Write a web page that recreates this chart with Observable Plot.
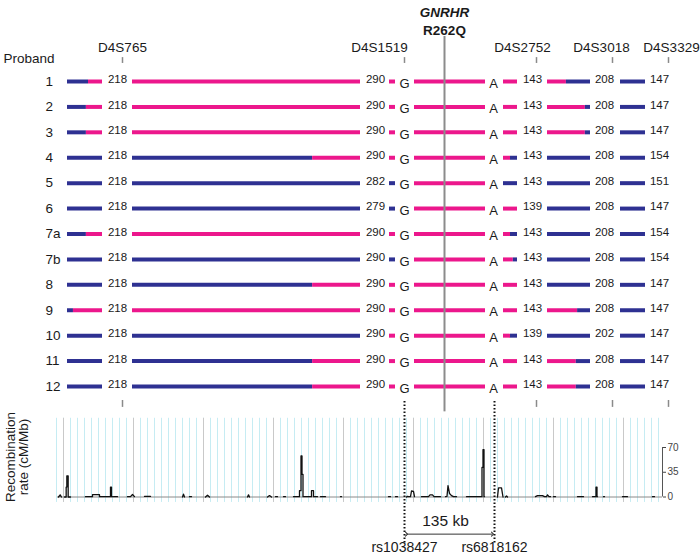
<!DOCTYPE html>
<html>
<head>
<meta charset="utf-8">
<script src="https://cdn.jsdelivr.net/npm/d3@7"></script>
<script src="https://cdn.jsdelivr.net/npm/@observablehq/plot@0.6"></script>
<style>
  body { margin: 0; background: #fff; }
  svg { display: block; }
</style>
</head>
<body>
<div id="chart"></div>
<script>
// ---------------- DATA ----------------
const probands = ["1","2","3","4","5","6","7a","7b","8","9","10","11","12"];

// markers (map position, kb)
const markerNames = ["D4S765","D4S1519","D4S2752","D4S3018","D4S3329"];
const markerKb = [88.5, 511.5, 709.5, 823.5, 907.5];
const snpNames = ["rs1038427","rs6818162"];
const snpKb = [511.5, 646.5];
const mutationName = "GNRHR";
const mutationLabel = "R262Q";
const mutationKb = 571.5;
const intervalLabel = "135 kb";

// alleles per proband
const alleleD4S765  = [218,218,218,218,218,218,218,218,218,218,218,218,218];
const alleleD4S1519 = [290,290,290,290,282,279,290,290,290,290,290,290,290];
const alleleRs1038427 = ["G","G","G","G","G","G","G","G","G","G","G","G","G"];
const alleleRs6818162 = ["A","A","A","A","A","A","A","A","A","A","A","A","A"];
const alleleD4S2752 = [143,143,143,143,143,139,143,143,143,143,139,143,143];
const alleleD4S3018 = [208,208,208,208,208,208,208,208,208,208,202,208,208];
const alleleD4S3329 = [147,147,147,154,151,147,154,154,147,147,147,147,147];

// haplotype per interval: s = shared (pink), n = not shared (blue);
// "n.60s" = not shared for first 60% of interval, then shared
const hapInt1 = ["n.60s","n.54s","n.54s","n","n","n","n.54s","n","n","n.17s","n","n","n"];
const hapInt2 = ["s","s","s","n.79s","n","n","s","n","n.79s","s","n","n.79s","n.79s"];
const hapInt3 = ["s","s","s","s","n","n","s","n","s","s","s","s","s"];
const hapInt4 = ["s","s","s","s","s","s","s","s","s","s","s","s","s"];
const hapInt5 = ["s","s","s","s.50n","n","s","s.50n","s.70n","s","s","s.50n","s","s"];
const hapInt6 = ["s.44n","s.88n","s.88n","n","n","n","n","n","n","s.70n","n","s.67n","s.67n"];
const hapInt7 = ["n","n","n","n","n","n","n","n","n","n","n","n","n"];

// recombination rate trace (kb, cM/Mb); null = gap
const recombKb = [
  -7.5,-5,-3,null,
  1.5,4,4,5,5,7,7,10.5,null,
  33,43.5,43.5,54,54,70.5,70.5,72,72,73.5,null,
  75,81,null,
  96,100.5,103.5,106.5,null,
  121.5,130.5,null,
  178.5,180,181.5,null,
  189,192,null,
  213,216,219,null,
  276,277.5,279,null,
  306,309,312,null,
  318,321,null,
  330,333,null,
  345,354,354,356.25,356.25,357.75,357.75,359.25,359.25,372,372,375,375,381,null,
  385.5,393,null,
  415.5,417,null,
  487.5,490.5,null,
  498,501,null,
  514.5,516,517.5,520.5,522,525,526.5,null,
  537,547.5,549.75,553.5,555.75,565.5,null,
  573,575.25,576.75,579,582,585,589.5,null,
  604.5,627.75,627.75,629.25,629.25,630.75,630.75,631.5,null,
  651,652.5,657,659.25,null,
  663,664.5,666,null,
  708,711,718.5,721.5,724.5,726,728.25,730.5,null,
  735,738,null,
  771,780,null,
  793.5,798.75,798.75,800.25,800.25,801,null,
  810,811.5,null,
  838.5,846,null,
  883.5,886.5
];
const recombRate = [
  0,3,0,null,
  0,0,14,14,30,30,0,0,null,
  0.5,0.5,3.3,3.3,0.5,0.5,14,14,0.5,0.5,null,
  0.5,0.5,null,
  0.5,0.5,3.5,0.5,null,
  0.8,0.8,null,
  0,4,0,null,
  0.5,0.5,null,
  0,2.5,0,null,
  0,3,0,null,
  0,2,0,null,
  0.5,0.5,null,
  0.5,0.5,null,
  0.5,0.5,9,9,58,58,32,32,0.5,0.5,9,9,0.5,0.5,null,
  0.5,0.5,null,
  0.5,0.5,null,
  0.5,0.5,null,
  0.5,0.5,null,
  0,1,0.5,0.5,8.5,8,0.5,null,
  0.5,0.5,3,3,0.5,0.5,null,
  0.5,1,16,5,2,0.5,0.5,null,
  0.5,0.5,42,42,67,67,0.5,0.5,null,
  0,13,13,0,null,
  0,1.5,0,null,
  0.5,2,2,0.5,0.5,3,0.5,0.5,null,
  0.5,0.5,null,
  0.5,0.5,null,
  0.5,0.5,14,14,0.5,0.5,null,
  0.5,0.5,null,
  0.5,0.5,null,
  0.5,0.5
];
const rateTicks = [0, 35, 70];
const yLabel = "Recombination\nrate (cM/Mb)";

// ---------------- LAYOUT (schematic, kb units) ----------------
const PINK = "#ec178c", BLUE = "#2e3192";
const FONT = "'Liberation Sans', Arial, Helvetica, sans-serif";
const xDomain = [-94.5, 955.5];
const intervals = [[6,58.5],[103.5,445.5],[489,498],[526.5,633],[660,681],[726,790.5],[835.5,873]];
const hapIntervals = [hapInt1,hapInt2,hapInt3,hapInt4,hapInt5,hapInt6,hapInt7];
const alleleColumns = [
  {kb: 81,    vals: alleleD4S765,    num: true},
  {kb: 468,   vals: alleleD4S1519,   num: true},
  {kb: 511.5, vals: alleleRs1038427, num: false},
  {kb: 645,   vals: alleleRs6818162, num: false},
  {kb: 703.5, vals: alleleD4S2752,   num: true},
  {kb: 811.5, vals: alleleD4S3018,   num: true},
  {kb: 894,   vals: alleleD4S3329,   num: true}
];
const markerLabelKb = [88.5, 474, 688.5, 807, 912];

function parseHap(code) {
  const m = code.match(/^([ns])(?:(\.\d+)([ns]))?$/);
  if (!m[2]) return [{h: m[1], f0: 0, f1: 1}];
  return [{h: m[1], f0: 0, f1: +m[2]}, {h: m[3], f0: +m[2], f1: 1}];
}

const segs = [];
hapIntervals.forEach((arr, k) => {
  const [a, b] = intervals[k];
  arr.forEach((code, i) => {
    parseHap(code).forEach(p => segs.push({row: i, x1: a + (b - a) * p.f0, x2: a + (b - a) * p.f1, hap: p.h}));
  });
});

const alleleNums = [], alleleLetters = [];
alleleColumns.forEach(c => c.vals.forEach((v, i) => (c.num ? alleleNums : alleleLetters).push({row: i, x: c.kb, text: String(v)})));

const rowLabels = probands.map((p, i) => ({row: i, text: p}));
const markerHeads = markerNames.map((m, i) => ({name: m, x: markerLabelKb[i]}));

// ---------------- TOP PLOT: haplotypes ----------------
const hapPlot = Plot.plot({
  width: 700, height: 398,
  margin: 0,
  style: {fontFamily: FONT, background: "#fff"},
  x: {domain: xDomain, range: [0, 700], axis: null},
  y: {domain: [0, 12], range: [81, 386], axis: null},
  color: {domain: ["n", "s"], range: [BLUE, PINK]},
  marks: [
    Plot.ruleY(segs, {y: "row", x1: "x1", x2: "x2", stroke: "hap", strokeWidth: 4}),
    Plot.text(alleleNums, {x: "x", y: "row", text: "text", fontSize: 11.5, dy: -2, fill: "#1a1a1a"}),
    Plot.text(alleleLetters, {x: "x", y: "row", text: "text", fontSize: 13, dy: 2, fill: "#1a1a1a"}),
    Plot.text(rowLabels, {x: () => -27, y: "row", text: "text", fontSize: 13.5, textAnchor: "start", fill: "#1a1a1a"}),
    Plot.text(["Proband"], {x: () => -90, y: () => -0.905, text: d => d, fontSize: 13.5, textAnchor: "start", fill: "#1a1a1a"}),
    Plot.text(markerHeads, {x: "x", y: () => -1.34, text: "name", fontSize: 13.5, fill: "#1a1a1a"}),
    Plot.ruleX(markerKb, {y1: -0.94, y2: -0.71, stroke: "#8a8a8a", strokeWidth: 1.5}),
    Plot.ruleX([mutationKb], {y1: -1.77, y2: 12.6, stroke: "#8c8c8c", strokeWidth: 2}),
    Plot.text([mutationName], {x: () => mutationKb, y: () => -2.72, text: d => d, fontSize: 13.5, fontWeight: "bold", fontStyle: "italic", fill: "#1a1a1a"}),
    Plot.text([mutationLabel], {x: () => mutationKb, y: () => -2.01, text: d => d, fontSize: 13.5, fontWeight: "bold", fill: "#1a1a1a"})
  ]
});

// ---------------- BOTTOM PLOT: recombination rate ----------------
const trace = [];
let segId = 0;
recombKb.forEach((x, i) => {
  if (x === null) { segId++; return; }
  trace.push({x, rate: recombRate[i], seg: segId});
});
const minorGrid = d3.range(-1, 86).map(k => k * 10.5);
const majorGrid = d3.range(0, 9).map(k => k * 105);
const bottomTicks = [markerKb[0], markerKb[2], markerKb[3], markerKb[4]];

const rateP = Plot.plot({
  width: 700, height: 158,
  marginTop: 0, marginBottom: 0, marginLeft: 0, marginRight: 38,
  style: {fontFamily: FONT, background: "#fff"},
  x: {domain: xDomain, range: [0, 700], axis: null},
  y: {domain: [0, 70], range: [98.5, 49], label: null},
  marks: [
    Plot.ruleX(minorGrid, {y1: -7.7, y2: 111.3, stroke: "#c6ecf3", strokeWidth: 1}),
    Plot.ruleX(majorGrid, {y1: -7.7, y2: 111.3, stroke: "#c9c9c9", strokeWidth: 1}),
    Plot.ruleY([0], {x1: -9, x2: 898.5, stroke: "#8a8a8a", strokeWidth: 1}),
    Plot.line(trace, {x: "x", y: "rate", z: "seg", stroke: "#111", strokeWidth: 1.3}),
    Plot.ruleX([898.5], {y1: 0, y2: 70, stroke: "#555", strokeWidth: 1}),
    Plot.axisY({anchor: "right", ticks: rateTicks, tickSize: 3, tickPadding: 2, fontSize: 10, color: "#444", label: null}),
    Plot.ruleX(bottomTicks, {y1: 136.5, y2: 126.7, stroke: "#8a8a8a", strokeWidth: 1.5}),
    Plot.ruleX([mutationKb], {y1: 140, y2: 120.4, stroke: "#8c8c8c", strokeWidth: 2}),
    Plot.ruleX(snpKb, {y1: 135, y2: -65, stroke: "#111", strokeWidth: 2, strokeDasharray: "1.5,2"}),
    Plot.text([intervalLabel], {x: () => 573, y: () => -34.3, text: d => d, fontSize: 15.5, fill: "#1a1a1a"}),
    Plot.link([snpKb], {x1: d => d[0] + 3, x2: d => d[1] - 3, y1: () => -52.5, y2: () => -52.5, stroke: "#333", strokeWidth: 1, markerStart: "arrow", markerEnd: "arrow"}),
    Plot.text(snpNames, {x: snpKb, y: () => -72.1, text: d => d, fontSize: 14, fill: "#1a1a1a"}),
    Plot.text([yLabel], {x: () => -69.75, y: () => 56.7, text: d => d, rotate: -90, fontSize: 13.5, lineAnchor: "middle", fill: "#1a1a1a"})
  ]
});

const host = document.getElementById("chart");
host.appendChild(hapPlot);
host.appendChild(rateP);
</script>
</body>
</html>
